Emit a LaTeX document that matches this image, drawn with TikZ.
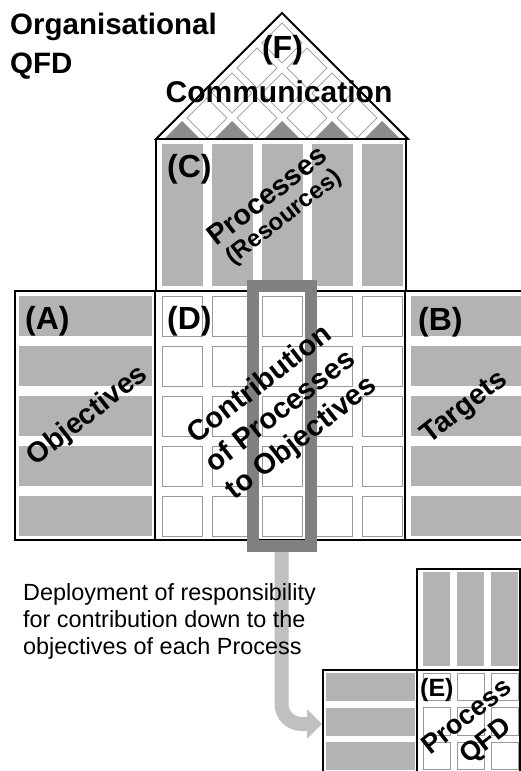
\documentclass[tikz,border=0pt]{standalone}
\usepackage{fontspec}
\setmainfont{Liberation Sans}
\usetikzlibrary{arrows.meta}
\definecolor{barcol}{HTML}{B3B3B3}
\definecolor{framecol}{HTML}{808080}
\definecolor{bandcol}{HTML}{C0C0C0}
\definecolor{cellcol}{HTML}{999999}
\definecolor{diamcol}{HTML}{A6A6A6}
\definecolor{tricol}{HTML}{8C8C8C}
\begin{document}
\begin{tikzpicture}[x=1pt,y=-1pt,
  boxline/.style={draw=black,line width=2pt},
  bar/.style={fill=barcol},
  cell/.style={draw=cellcol,line width=1pt,fill=white},
  diam/.style={draw=diamcol,line width=1pt,fill=white},
  tri/.style={fill=tricol},
  lab/.style={font=\fontsize{32}{36}\selectfont\bfseries,inner sep=0pt,anchor=base west},
  ttl/.style={font=\fontsize{29.5}{32}\selectfont\bfseries,inner sep=0pt,anchor=base west},
  slant/.style={font=\fontsize{28.5}{33}\selectfont\bfseries,inner sep=0pt,rotate=38,align=center},
  body/.style={font=\fontsize{23.4}{27}\selectfont,inner sep=0pt,anchor=base west},
  band/.style={draw=bandcol,line width=14pt,rounded corners=20pt,-{Triangle[length=15pt,width=29pt]}},
  hframe/.style={draw=framecol,line width=12pt,inner sep=0pt,minimum width=58pt,minimum height=260pt}
]
\clip (0,0) rectangle (521,771);
\fill[white] (0,0) rectangle (521,771);

% roof
\foreach \cx/\cy in {282/43,257/68,307/68,232/93,282/93,332/93,207/118,257/118,307/118,357/118}
  \draw[diam] (\cx,\cy-20) -- (\cx+20,\cy) -- (\cx,\cy+20) -- (\cx-20,\cy) -- cycle;
\foreach \c in {182,232,282,332,382}
  \fill[tri] (\c-18,139) -- (\c,121) -- (\c+18,139) -- cycle;
\draw[line width=1.8pt] (156,139) -- (282,13) -- (408,139) -- cycle;

% (C) processes box
\foreach \i in {0,...,4} \fill[bar] (162+50*\i,144) rectangle +(41,142);
\draw[boxline] (156,139) rectangle (406,291);

% (A) objectives
\foreach \j in {0,...,4} \fill[bar] (19,296+50*\j) rectangle +(133,40);
\draw[boxline] (15,291) rectangle (155,540);
% (D) matrix
\foreach \i in {0,...,4} \foreach \j in {0,...,4} \draw[cell] (162+50*\i,296+50*\j) rectangle +(40,40);
\draw[boxline] (155,291) rectangle (405,540);
% (B) targets
\foreach \j in {0,...,4} \fill[bar] (411,296+50*\j) rectangle +(120,40);
\draw[boxline] (405,291) rectangle (540,540);

% process QFD
\foreach \i in {0,1,2} \fill[bar] (423+34*\i,572) rectangle +(27,94);
\draw[boxline] (417,569) rectangle (520,670);
\foreach \j in {0,1,2} \fill[bar] (326,673+34.5*\j) rectangle +(89,28);
\draw[boxline] (322.5,670) rectangle (417,790);
\foreach \i in {0,1,2} \foreach \j in {0,1,2} \draw[cell] (423+34*\i,673+34.5*\j) rectangle +(27,27.5);
\draw[boxline] (417,670) rectangle (520,790);

% deployment arrow and highlight frame
\node[hframe] (frame) at (281.5,416) {};
\coordinate (ebW) at (322,724);
\draw[band] (frame.south) |- (ebW);
\node[hframe] (frame2) at (281.5,416) {};

% texts
\node[ttl] (t1) at (10,34) {Organisational};
\node[ttl] (t2) at (10,73) {QFD};
\node[lab,anchor=base] (labF) at (282.5,58) {(F)};
\node[font=\fontsize{30}{32}\selectfont\bfseries,inner sep=0pt,anchor=base] (comm) at (279,102) {Communication};
\node[lab] (labC) at (167,177) {(C)};
\node[lab] (labA) at (25,329) {(A)};
\node[lab] (labD) at (167,329) {(D)};
\node[lab] (labB) at (418,330) {(B)};
\node[lab,font=\fontsize{25}{28}\selectfont\bfseries] (labE) at (420,696) {(E)};

\node[slant,font=\fontsize{28.5}{25}\selectfont\bfseries] (proc) at (276,207) {Processes\\{\fontsize{24}{25}\selectfont(Resources)}};
\node[slant] (objt) at (88,416) {Objectives};
\node[slant] (targ) at (465,408) {Targets};
\node[slant,font=\fontsize{29}{34}\selectfont\bfseries] (contr) at (281,412) {Contribution\\of Processes\\to Objectives};
\node[slant,font=\fontsize{27}{31}\selectfont\bfseries] (pq) at (477,730) {Process\\QFD};

\node[body] (d1) at (23,600) {Deployment of responsibility};
\node[body] (d2) at (23,627) {for contribution down to the};
\node[body] (d3) at (23,654) {objectives of each Process};
\end{tikzpicture}
\end{document}
